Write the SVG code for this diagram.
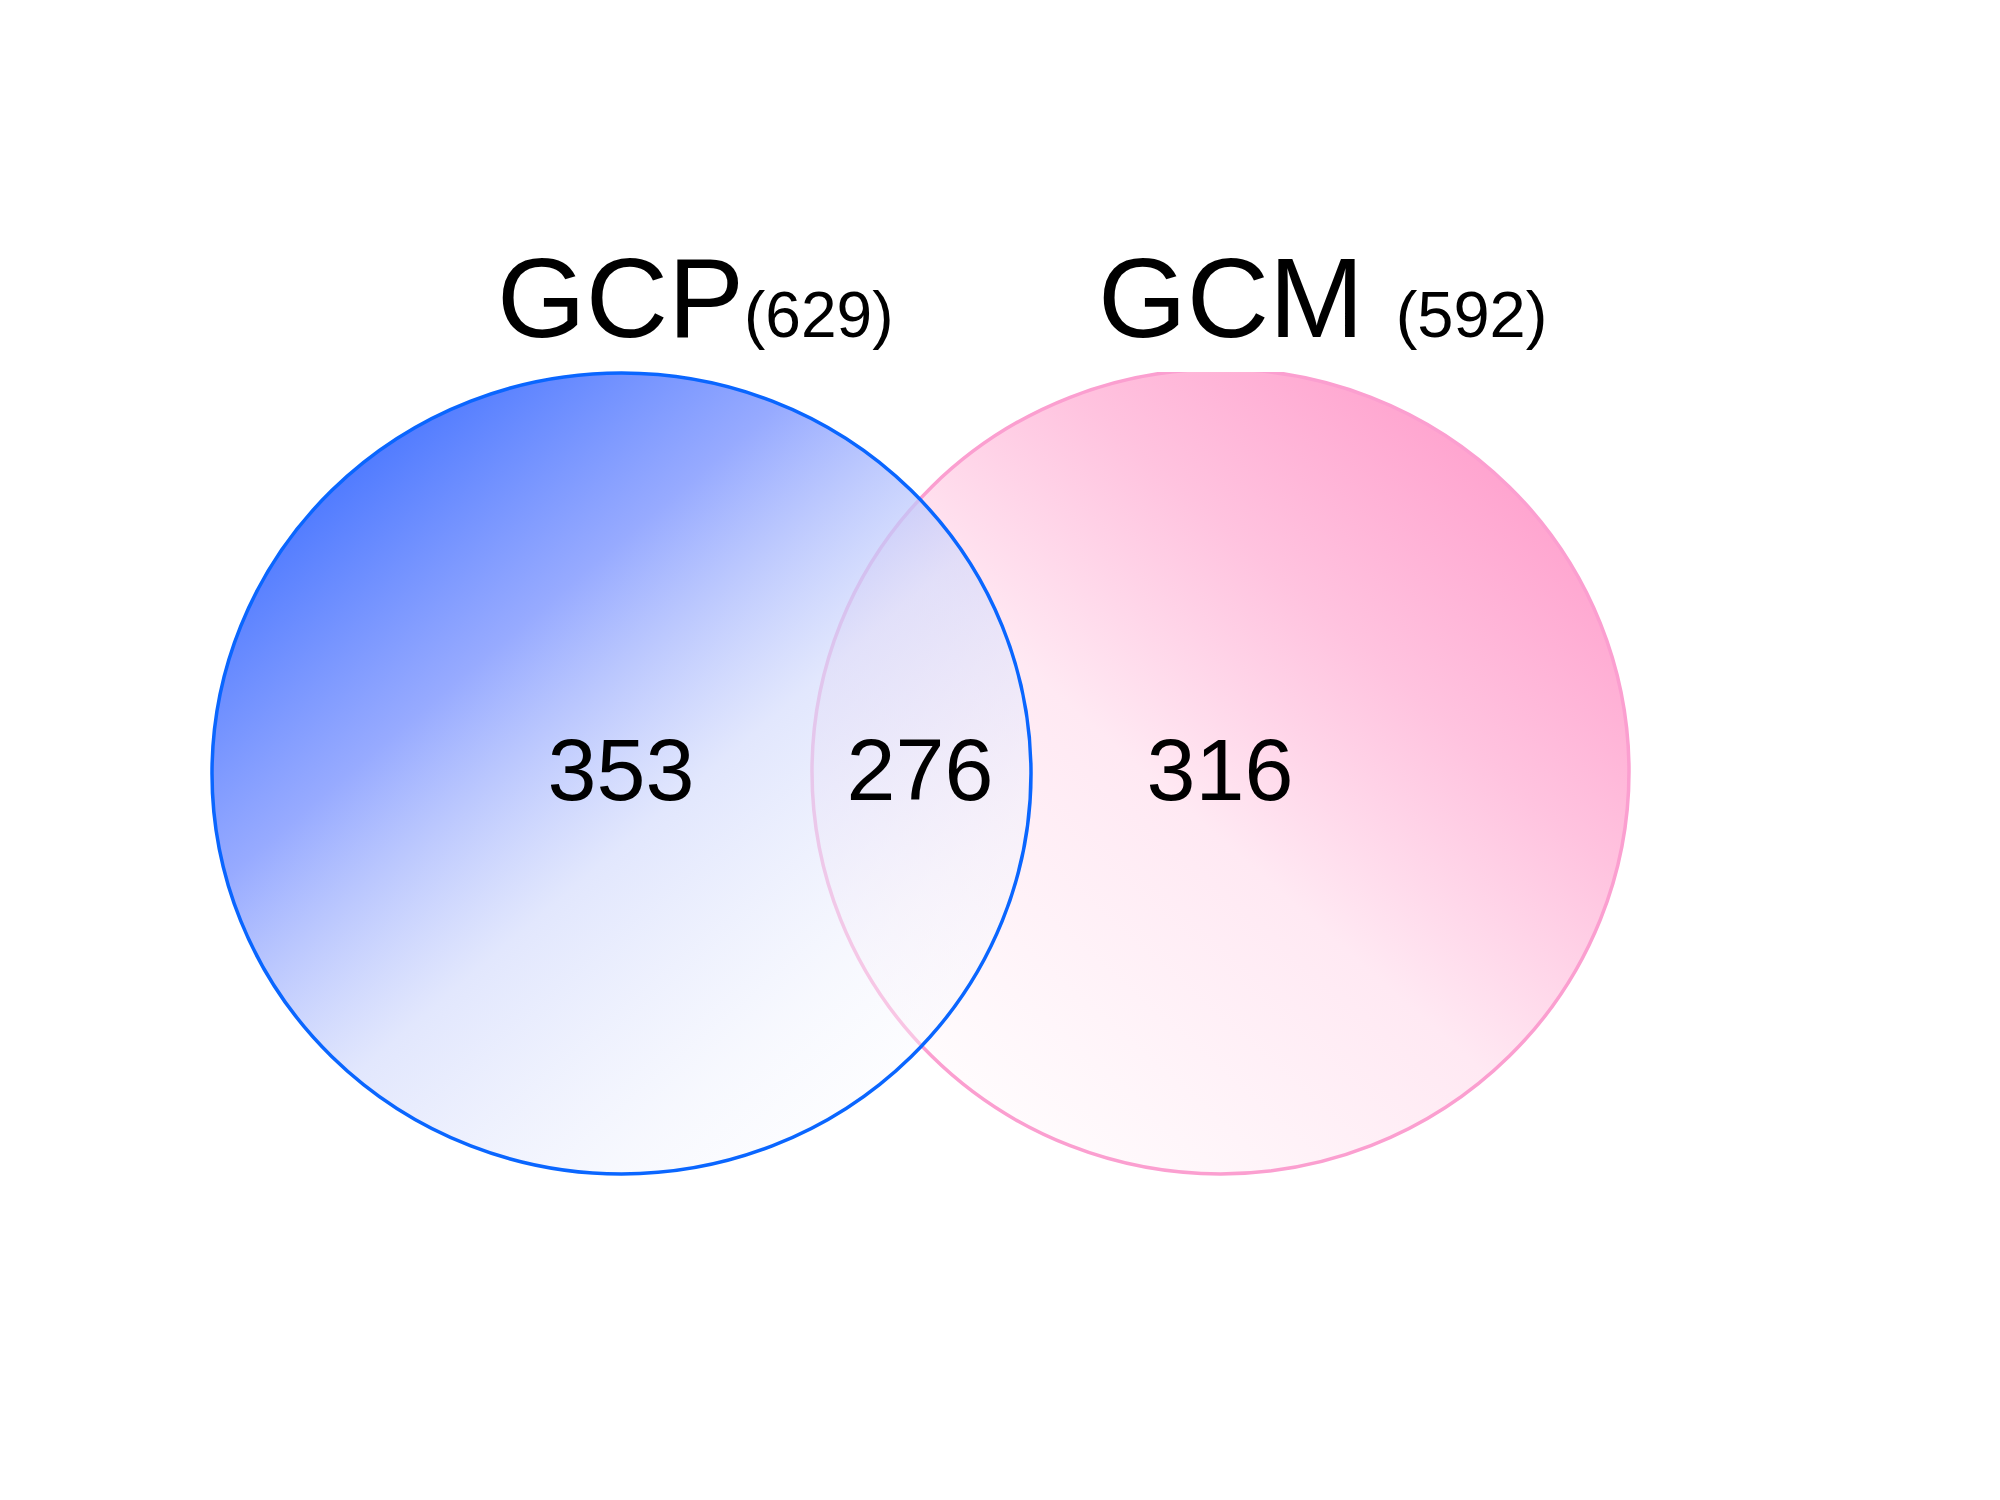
<svg xmlns="http://www.w3.org/2000/svg" width="2000" height="1500" viewBox="0 0 2000 1500">
<defs>
<linearGradient id="gBlue" x1="0.12" y1="0.08" x2="0.88" y2="0.95">
<stop offset="0" stop-color="#4070ff" stop-opacity="1"/>
<stop offset="0.3" stop-color="#8ea3ff" stop-opacity="0.92"/>
<stop offset="0.55" stop-color="#d2dafc" stop-opacity="0.65"/>
<stop offset="0.8" stop-color="#eef1fd" stop-opacity="0.5"/>
<stop offset="1" stop-color="#ffffff" stop-opacity="0.35"/>
</linearGradient>
<linearGradient id="gPink" x1="0.9" y1="0.08" x2="0.12" y2="0.95">
<stop offset="0" stop-color="#ff9ccb"/>
<stop offset="0.3" stop-color="#ffc3df"/>
<stop offset="0.55" stop-color="#ffe9f3"/>
<stop offset="1" stop-color="#ffffff"/>
</linearGradient>
<clipPath id="clipTop"><rect x="0" y="372" width="2000" height="1128"/></clipPath>
<style>
text{font-family:"Liberation Sans",Arial,sans-serif;fill:#000}
.title{font-size:114px}
.num{font-size:88px;text-anchor:middle}
</style>
</defs>
<rect width="2000" height="1500" fill="#ffffff"/>
<g id="GCM">
<ellipse cx="1220.5" cy="771.5" rx="408.5" ry="402.5" fill="url(#gPink)" stroke="#fb9fd0" stroke-width="3.5" clip-path="url(#clipTop)"/>
</g>
<g id="GCP">
<ellipse cx="621.5" cy="773.5" rx="409.5" ry="400.5" fill="url(#gBlue)" stroke="#0a66ff" stroke-width="3.5"/>
</g>
<g id="labels">
<text class="title" x="497" y="337">GCP<tspan font-size="64">(629)</tspan></text>
<text class="title" x="1098" y="337">GCM <tspan font-size="65">(592)</tspan></text>
<text class="num" x="621" y="800">353</text>
<text class="num" x="920" y="800">276</text>
<text class="num" x="1220" y="800">316</text>
</g>
</svg>
